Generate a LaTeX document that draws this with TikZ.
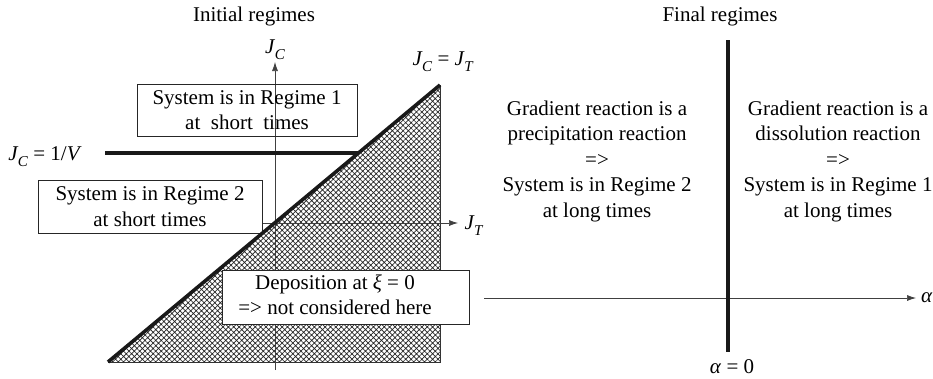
\documentclass[tikz,border=0pt]{standalone}
\usepackage{fontspec}
\setmainfont{Liberation Serif}
\usetikzlibrary{arrows.meta,patterns.meta}
\newcommand{\subsc}[1]{\raisebox{-0.28em}{\fontsize{15}{15}\selectfont\textit{#1}}}
\newcommand{\JCsym}{\textit{J}\kern-0.5pt\subsc{C}}
\newcommand{\JTsym}{\textit{J}\kern-0.5pt\subsc{T}}
\tikzset{
  txt/.style={font=\fontsize{21}{25.5}\selectfont, text=black, inner sep=0pt, align=center},
  regbox/.style={txt, draw=black!85, line width=0.8pt, fill=white},
  axis/.style={draw=black!75, line width=0.7pt, -{Latex[length=9pt,width=6pt]}},
  thick line/.style={draw=black!90, line width=3.6pt},
}
\begin{document}
\begin{tikzpicture}[x=1pt,y=-1pt]
\useasboundingbox (0,0) rectangle (933,378);
% hatched triangle
\coordinate (tbl) at (108,362);
\coordinate (ttop) at (440,85);
\coordinate (tbr) at (440,362);
\fill[pattern={Hatch[angle=45,distance=3.8pt,line width=0.7pt]}, pattern color=black!85] (tbl) -- (ttop) -- (tbr) -- cycle;
\draw[black!80, line width=0.8pt] (ttop) -- (tbr) -- (tbl);
% axes (left)
\coordinate (jcb) at (275,370);
\coordinate (jct) at (275,62);
\coordinate (jtl) at (262,223);
\coordinate (jtr) at (458,223);
\draw[axis] (jcb) -- (jct);
\draw[axis] (jtl) -- (jtr);
% boxes
\node[regbox, minimum width=220pt, minimum height=52pt, fill=none] (r1) at (247,110) {System is in Regime 1\\at\ \ short\ \ times};
\node[regbox, minimum width=224pt, minimum height=53pt] (r2) at (150,206.5) {System is in Regime 2\\at short times};
% thick lines
\coordinate (vl) at (105,153);
\coordinate (vr) at (359,153);
\draw[thick line] (vl) -- (vr);
\draw[thick line] (tbl) -- (ttop);
\node[regbox, minimum width=247pt, minimum height=54pt] (dep) at (345.5,297) {\begin{tabular}{@{}c@{}}Deposition at \textit{ξ} = 0\\=> not considered here\end{tabular}\hspace*{21pt}};
% labels left
\node[txt] (init) at (254,16) {Initial regimes};
\node[txt] (jc) at (275,50) {\JCsym};
\node[txt] (jt) at (474,226) {\JTsym};
\node[txt] (jcjt) at (443,62) {\JCsym{} = \JTsym};
\node[txt] (jcv) at (45,157) {\JCsym{} = 1/\textit{V}};
% right part
\coordinate (al) at (484,298);
\coordinate (ar) at (916,298);
\draw[axis] (al) -- (ar);
\coordinate (zt) at (728,40);
\coordinate (zb) at (728,352);
\draw[thick line] (zt) -- (zb);
\node[txt] (final) at (720,16) {Final regimes};
\node[txt, anchor=west] (alpha) at (921,298) {\textit{α}};
\node[txt] (a0) at (732,367) {\textit{α} = 0};
\node[txt] (prec) at (597,161) {Gradient reaction is a\\precipitation reaction\\=>\\System is in Regime 2\\at long times};
\node[txt] (diss) at (838,161) {Gradient reaction is a\\dissolution reaction\\=>\\System is in Regime 1\\at long times};
\end{tikzpicture}
\end{document}
